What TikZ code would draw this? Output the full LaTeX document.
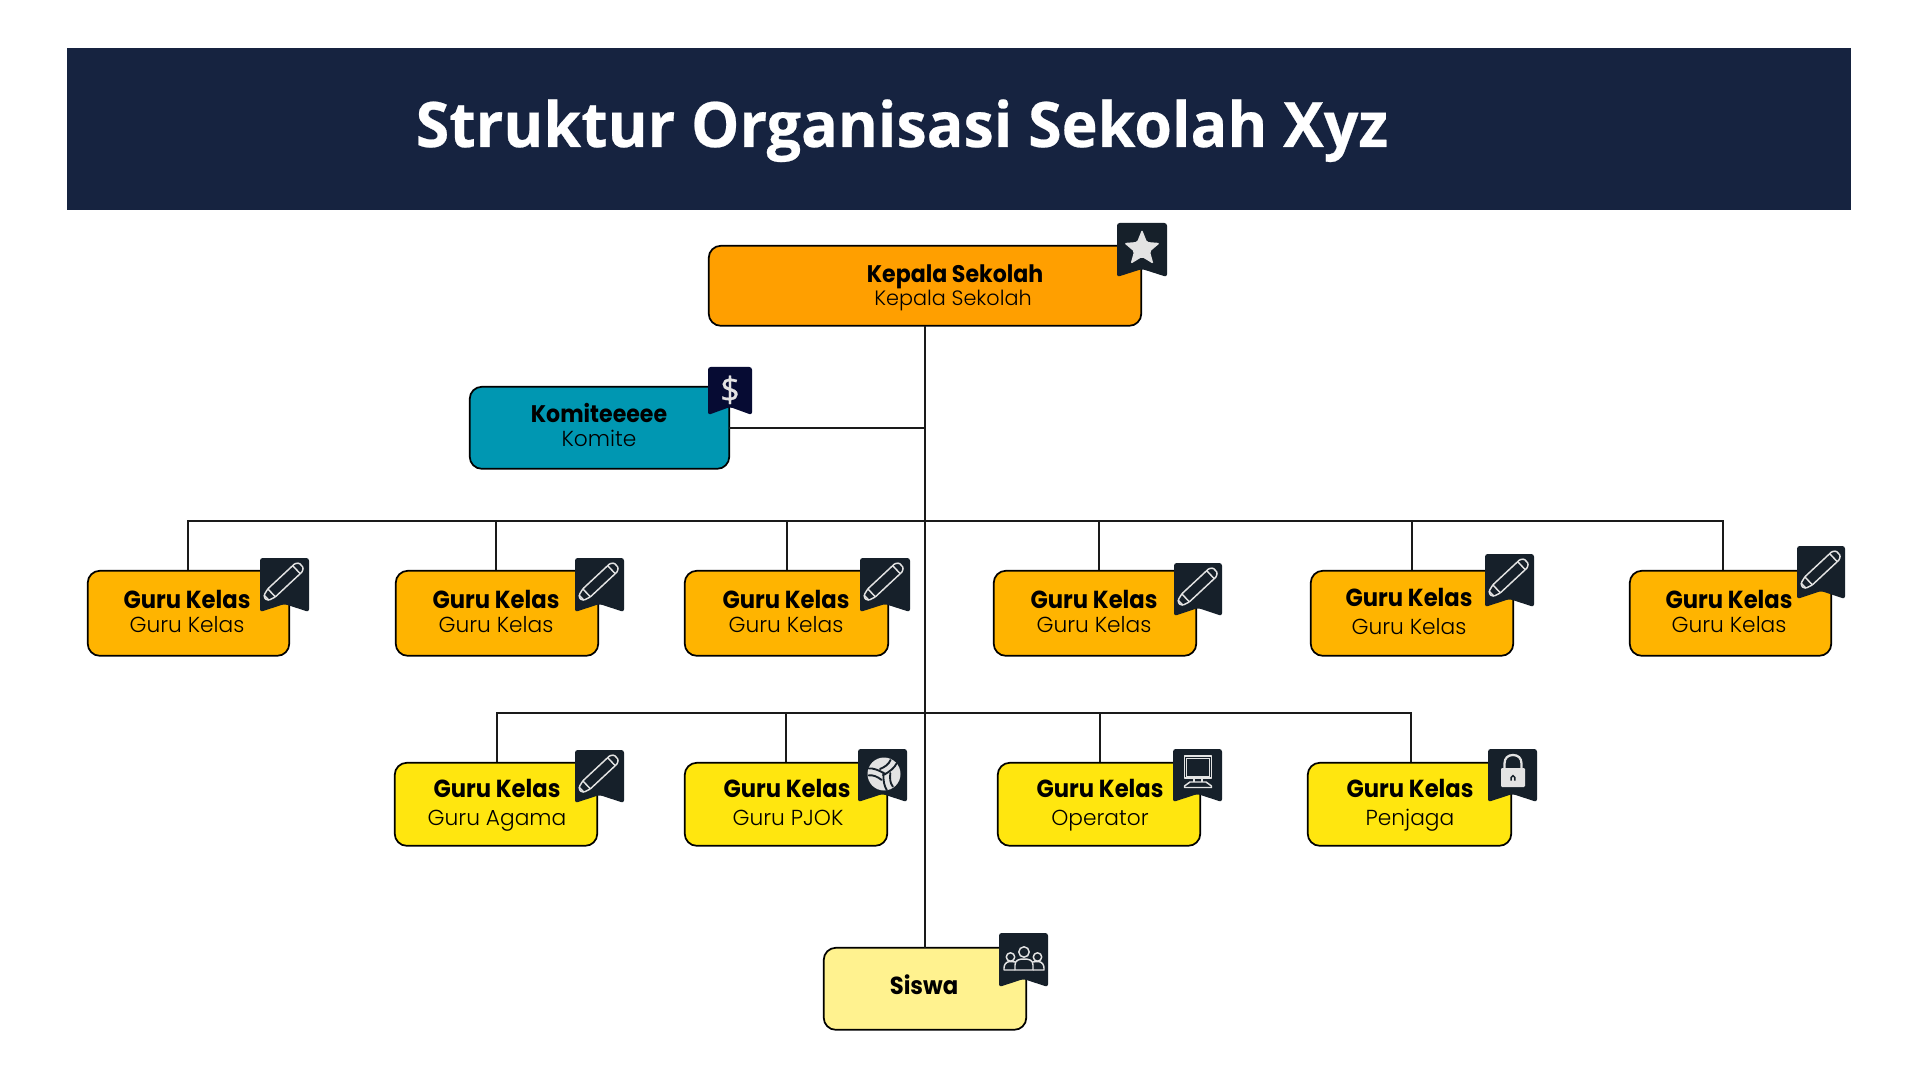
\documentclass[tikz,border=0pt]{standalone}
\usepackage{fontspec}
\newfontfamily\titlef[FakeStretch=0.972,BoldFeatures={FakeBold=0.4}]{Open Sans}
\newfontfamily\dollarf[FakeBold=0.5]{Open Sans}
\newfontfamily\headf[FakeStretch=0.92]{Poppins}
\newfontfamily\subf{Poppins Light}
\definecolor{bar}{HTML}{162340}
\definecolor{kepc}{HTML}{FF9F00}
\definecolor{komc}{HTML}{0097B2}
\definecolor{guruc}{HTML}{FFB400}
\definecolor{stafc}{HTML}{FFE60F}
\definecolor{sisc}{HTML}{FFF28F}
\definecolor{ribc}{HTML}{16202A}
\definecolor{ribd}{HTML}{060B33}
\definecolor{iconc}{HTML}{E3E3E3}
\definecolor{linec}{HTML}{1A1A1A}
\tikzset{
  orgbox/.style={draw=black,line width=1.3pt,rounded corners=9pt,inner sep=0pt,outer sep=0pt},
  conn/.style={draw=linec,line width=1.4pt},
  headtxt/.style={anchor=base,inner sep=0pt,text=black,font=\headf\bfseries\fontsize{18.5}{20}\selectfont},
  headsmall/.style={anchor=base,inner sep=0pt,text=black,font=\headf\bfseries\fontsize{18}{20}\selectfont},
  subtxt/.style={anchor=base,inner sep=0pt,text=black,font=\subf\fontsize{16.3}{18}\selectfont},
  subsmall/.style={anchor=base,inner sep=0pt,text=black,font=\subf\fontsize{15.6}{18}\selectfont},
  iconline/.style={draw=iconc,line width=1.1pt,line join=round},
  pencilicon/.pic={
    \begin{scope}[rotate=43]
      \draw[iconline,rounded corners=0.8pt] (0,0) -- (2,-3.5) -- (9,-5.5) -- (46,-5.5) -- (49.5,-3) -- (49.5,3) -- (46,5.5) -- (9,5.5) -- (2,3.5) -- cycle;
      \draw[iconline] (9,-5.5) -- (9,5.5) (43,-5.5) -- (43,5.5) (2,-3.5) -- (2,3.5);
    \end{scope}
  },
  ballicon/.pic={
    \fill[iconc] (0,0) circle (16.5);
    \foreach \a in {0,120,240}{
      \begin{scope}[rotate=\a]
        \draw[ribc,line width=1.4pt,line cap=round] (-1,1) .. controls (6,-2) and (11,-7) .. (12.5,-10.5);
        \draw[ribc,line width=1.4pt,line cap=round] (-4,-5) .. controls (1,-7) and (5,-10) .. (6.5,-14);
      \end{scope}
    }
  },
  starshapeicon/.pic={
    \fill[iconc,rounded corners=1.2pt] (0,-19) -- (5,-6.5) -- (18,-5.5) -- (8,3) -- (11.5,15.5) -- (0,8.5) -- (-11.5,15.5) -- (-8,3) -- (-18,-5.5) -- (-5,-6.5) -- cycle;
  },
  monitoricon/.pic={
    \draw[iconline] (-13.5,-22) rectangle (13.5,0);
    \draw[iconc,line width=0.4pt] (-11.5,-20) rectangle (11.5,-2);
    \draw[iconc,line width=0.8pt] (-4,0) -- (-4,4) (4,0) -- (4,4);
    \draw[iconline] (-8,4) -- (8,4) -- (13.5,8) -- (13.5,9.5) -- (-13.5,9.5) -- (-13.5,8) -- cycle;
  },
  lockicon/.pic={
    \fill[iconc,rounded corners=0.8pt] (-12,0) rectangle (12,19);
    \draw[iconc,line width=1.7pt] (-8.5,0) -- (-8.5,-4.5) .. controls (-8.5,-10) and (-5,-13) .. (0,-13) .. controls (5,-13) and (8.5,-10) .. (8.5,-4.5) -- (8.5,0);
    \draw[ribc,line width=1.1pt] (-1.8,12.5) -- (-1.8,9.5) .. controls (-1.8,7) and (1.8,7) .. (1.8,9.5) -- (1.8,12.5);
  },
  peopleicon/.pic={
    \draw[iconline] (0,-18) circle (5.2);
    \draw[iconline] (-13.5,-13) circle (4.2);
    \draw[iconline] (13.5,-13) circle (4.2);
    \draw[iconline] (-9,0) -- (-9,-5) .. controls (-9,-10) and (-5,-11) .. (0,-11) .. controls (5,-11) and (9,-10) .. (9,-5) -- (9,0) -- cycle;
    \draw[iconline] (-9,-8) .. controls (-11,-8.5) and (-13,-8.5) .. (-14,-8.5) .. controls (-18,-8.5) and (-20,-5) .. (-20,-2) -- (-20,0) -- (-9,0);
    \draw[iconline] (9,-8) .. controls (11,-8.5) and (13,-8.5) .. (14,-8.5) .. controls (18,-8.5) and (20,-5) .. (20,-2) -- (20,0) -- (9,0);
  },
}
% name, x1, y1, x2, y2, fill
\newcommand{\orgnode}[6]{%
  \node[orgbox,fill=#6,minimum width={(#4-#2-1.5)*0.75pt},minimum height={(#5-#3-1)*0.75pt}] (#1) at ({(#2+#4)/2},{(#3+#5+0.6)/2}) {};%
}
% x1, y1, x2, y2, colour
\newcommand{\ribbonshape}[5]{%
  \fill[#5,rounded corners=2pt] (#1,#2) -- (#3,#2) -- (#3,#4) -- ({(#1+#3)/2},#4-8) -- (#1,#4) -- cycle;%
}
\begin{document}
\begin{tikzpicture}[x=0.75pt,y=-0.75pt]
\useasboundingbox (0,0) rectangle (1920,1080);
\fill[white] (0,0) rectangle (1920,1080);
% title
\node[fill=bar,minimum width={1784*0.75pt},minimum height={162*0.75pt},inner sep=0pt,outer sep=0pt] (banner) at (959,129) {};
\node[anchor=base,inner sep=0pt,text=white,font=\titlef\bfseries\fontsize{47}{50}\selectfont] (title) at (902,147) {Struktur Organisasi Sekolah Xyz};
% boxes
\orgnode{kepala}{708}{245}{1142}{326}{kepc}
\orgnode{komite}{469}{386}{730}{469}{komc}
\orgnode{ga}{87}{570}{290}{656}{guruc}
\orgnode{gb}{395}{570}{599}{656}{guruc}
\orgnode{gc}{684}{570}{889}{656}{guruc}
\orgnode{gd}{993}{570}{1197}{656}{guruc}
\orgnode{ge}{1310}{570}{1514}{656}{guruc}
\orgnode{gf}{1629}{570}{1832}{656}{guruc}
\orgnode{sa}{394}{762}{598}{846}{stafc}
\orgnode{sb}{684}{762}{888}{846}{stafc}
\orgnode{sc}{997}{762}{1201}{846}{stafc}
\orgnode{sd}{1307}{762}{1512}{846}{stafc}
\orgnode{siswa}{823}{947}{1027}{1030}{sisc}
% junctions and connector ends
\coordinate (jkom) at (925,427);
\coordinate (jrowa) at (925,521);
\coordinate (jrowb) at (925,713);
\coordinate (da) at (188,570);
\coordinate (db) at (496,570);
\coordinate (dc) at (787,570);
\coordinate (dd) at (1099,570);
\coordinate (de) at (1412,570);
\coordinate (df) at (1723,570);
\coordinate (dsa) at (497,762);
\coordinate (dsb) at (786,762);
\coordinate (dsc) at (1100,762);
\coordinate (dsd) at (1411,762);
% connectors
\draw[conn] (kepala.south) -- (siswa.north);
\draw[conn] (komite.east) -- (komite.east -| jkom);
\draw[conn] (da) |- (jrowa);
\draw[conn] (df) |- (jrowa);
\foreach \d in {db,dc,dd,de}{\draw[conn] (\d) -- (\d |- jrowa);}
\draw[conn] (dsa) |- (jrowb);
\draw[conn] (dsd) |- (jrowb);
\foreach \d in {dsb,dsc}{\draw[conn] (\d) -- (\d |- jrowb);}
% ribbons and icons
\ribbonshape{1117}{223}{1167}{277}{ribc}
\pic at (1142,248.5) {starshapeicon};
\ribbonshape{708}{367}{752}{415}{ribd}
\ribbonshape{260}{558}{309}{612}{ribc}
\pic at (265,599) {pencilicon};
\ribbonshape{575}{558}{624}{612}{ribc}
\pic at (580,599) {pencilicon};
\ribbonshape{860}{558}{910}{612}{ribc}
\pic at (865,599) {pencilicon};
\ribbonshape{1174}{563}{1222}{616}{ribc}
\pic at (1179,604) {pencilicon};
\ribbonshape{1485}{554}{1534}{607}{ribc}
\pic at (1490,595) {pencilicon};
\ribbonshape{1797}{546}{1845}{599}{ribc}
\pic at (1802,587) {pencilicon};
\ribbonshape{575}{750}{624}{803}{ribc}
\pic at (580,791) {pencilicon};
\ribbonshape{858}{749}{907}{802}{ribc}
\pic at (884,774) {ballicon};
\ribbonshape{1173}{749}{1222}{802}{ribc}
\pic at (1198,778) {monitoricon};
\ribbonshape{1488}{749}{1537}{802}{ribc}
\pic at (1513,768) {lockicon};
\ribbonshape{999}{933}{1048}{987}{ribc}
\pic at (1024,970) {peopleicon};
\node[anchor=base,inner sep=0pt,text=iconc,font=\dollarf\fontsize{26}{28}\selectfont] (dollar) at (730,402) {\$};
% labels
\node[headsmall] (kepalah) at (955,282.5) {Kepala Sekolah};
\node[subsmall] (kepalas) at (953,305.5) {Kepala Sekolah};
\node[headsmall] (komiteh) at (599,422) {Komiteeeee};
\node[subtxt] (komites) at (599,446) {Komite};
\foreach \n/\x/\yh/\ys in {ga/187/608/632,gb/496/608/632,gc/786/608/632,gd/1094/608/632,ge/1409/606/634,gf/1729/608/632}{
  \node[headtxt] (\n h) at (\x,\yh) {Guru Kelas};
  \node[subtxt] (\n s) at (\x,\ys) {Guru Kelas};
}
\node[headtxt] (sah) at (497,797) {Guru Kelas};
\node[subtxt] (sas) at (497,825) {Guru Agama};
\node[headtxt] (sbh) at (787,797) {Guru Kelas};
\node[subtxt] (sbs) at (788,825) {Guru PJOK};
\node[headtxt] (sch) at (1100,797) {Guru Kelas};
\node[subtxt] (scs) at (1100,825) {Operator};
\node[headtxt] (sdh) at (1410,797) {Guru Kelas};
\node[subtxt] (sds) at (1410,825) {Penjaga};
\node[headtxt] (siswah) at (924,994) {Siswa};
\end{tikzpicture}
\end{document}
